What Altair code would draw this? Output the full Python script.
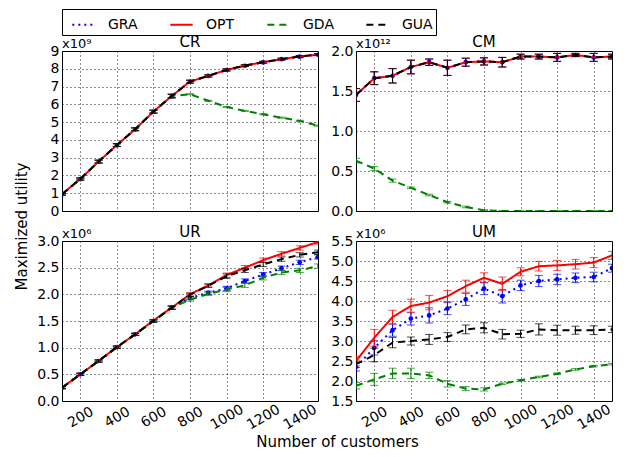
import altair as alt
import pandas as pd

customers = [100, 200, 300, 400, 500, 600, 700, 800, 900, 1000, 1100, 1200, 1300, 1400, 1500]
series_names = ["GRA", "OPT", "GDA", "GUA"]
series_colors = ["#0000ff", "#ff0000", "#008000", "#000000"]
series_dashes = [[2, 4], [1, 0], [7, 5], [7, 5]]
x_ticks = [200, 400, 600, 800, 1000, 1200, 1400]

# ---- CR (x10^9)
cr_gra = [0.93, 1.79, 2.77, 3.70, 4.59, 5.58, 6.46, 7.27, 7.60, 7.93, 8.17, 8.36, 8.54, 8.68, 8.79]
cr_opt = [0.95, 1.80, 2.78, 3.71, 4.60, 5.59, 6.47, 7.28, 7.60, 7.94, 8.18, 8.37, 8.54, 8.69, 8.80]
cr_gda = [0.95, 1.80, 2.78, 3.71, 4.60, 5.59, 6.47, 6.57, 6.20, 5.85, 5.63, 5.44, 5.25, 5.07, 4.80]
cr_gua = [0.94, 1.80, 2.78, 3.71, 4.60, 5.59, 6.47, 7.28, 7.60, 7.94, 8.18, 8.37, 8.54, 8.69, 8.80]
cr_err = [0.05, 0.06, 0.08, 0.08, 0.08, 0.08, 0.10, 0.08, 0.06, 0.06, 0.05, 0.05, 0.05, 0.05, 0.05]
cr_gda_err = [0.05, 0.06, 0.08, 0.08, 0.08, 0.08, 0.10, 0.03, 0.03, 0.03, 0.03, 0.03, 0.03, 0.03, 0.03]

# ---- CM (x10^12)
cm_gra = [1.45, 1.66, 1.69, 1.80, 1.86, 1.79, 1.86, 1.87, 1.86, 1.93, 1.93, 1.92, 1.95, 1.92, 1.93]
cm_opt = [1.45, 1.66, 1.69, 1.80, 1.86, 1.79, 1.86, 1.87, 1.86, 1.93, 1.93, 1.92, 1.95, 1.92, 1.93]
cm_gda = [0.63, 0.53, 0.38, 0.29, 0.20, 0.11, 0.05, 0.01, 0.00, 0.00, 0.00, 0.00, 0.00, 0.00, 0.00]
cm_gua = [1.45, 1.66, 1.69, 1.80, 1.86, 1.79, 1.86, 1.87, 1.86, 1.93, 1.93, 1.92, 1.95, 1.92, 1.93]
cm_err = [0.08, 0.08, 0.09, 0.085, 0.04, 0.095, 0.05, 0.045, 0.06, 0.03, 0.03, 0.05, 0.02, 0.05, 0.03]
cm_gda_err = [0.03, 0.025, 0.02, 0.01, 0.01, 0.01, 0.01, 0.005, 0.005, 0.005, 0.005, 0.005, 0.005, 0.005, 0.005]

# ---- UR (x10^6)
ur_gra = [0.25, 0.50, 0.75, 1.01, 1.25, 1.50, 1.75, 1.93, 2.03, 2.11, 2.25, 2.37, 2.49, 2.60, 2.70]
ur_opt = [0.25, 0.50, 0.75, 1.01, 1.25, 1.51, 1.75, 2.00, 2.17, 2.36, 2.50, 2.64, 2.76, 2.87, 2.98]
ur_gda = [0.25, 0.50, 0.75, 1.01, 1.25, 1.50, 1.75, 1.90, 2.01, 2.09, 2.17, 2.31, 2.41, 2.45, 2.53]
ur_gua = [0.25, 0.50, 0.75, 1.01, 1.25, 1.50, 1.75, 1.99, 2.16, 2.34, 2.45, 2.56, 2.66, 2.74, 2.79]
ur_err = [0.02, 0.02, 0.02, 0.02, 0.02, 0.02, 0.03, 0.03, 0.03, 0.04, 0.04, 0.04, 0.04, 0.04, 0.04]

# ---- UM (x10^6)
um_gra = [2.35, 2.83, 3.27, 3.56, 3.64, 3.81, 4.04, 4.31, 4.12, 4.39, 4.50, 4.54, 4.58, 4.60, 4.82]
um_opt = [2.50, 3.08, 3.60, 3.875, 3.96, 4.12, 4.37, 4.58, 4.43, 4.73, 4.87, 4.89, 4.92, 4.96, 5.14]
um_gda = [1.88, 2.04, 2.19, 2.19, 2.14, 1.93, 1.81, 1.79, 1.93, 2.02, 2.10, 2.18, 2.29, 2.37, 2.42]
um_gua = [2.42, 2.65, 2.96, 3.00, 3.04, 3.10, 3.29, 3.33, 3.17, 3.18, 3.29, 3.27, 3.27, 3.27, 3.29]
um_gra_err = [0.10, 0.18, 0.15, 0.16, 0.19, 0.15, 0.15, 0.15, 0.17, 0.13, 0.14, 0.13, 0.12, 0.12, 0.10]
um_opt_err = [0.12, 0.21, 0.17, 0.17, 0.18, 0.14, 0.15, 0.125, 0.17, 0.10, 0.12, 0.125, 0.12, 0.125, 0.10]
um_gda_err = [0.08, 0.15, 0.13, 0.13, 0.08, 0.08, 0.05, 0.04, 0.02, 0.02, 0.02, 0.02, 0.02, 0.02, 0.02]
um_gua_err = [0.08, 0.17, 0.13, 0.10, 0.125, 0.11, 0.11, 0.125, 0.12, 0.09, 0.14, 0.125, 0.10, 0.11, 0.08]

FONT = "DejaVu Sans"
W, H = 256, 160


def frame(values, errors):
    rows = []
    for name in series_names:
        vals = values[name]
        errs = errors[name]
        for x, v, e in zip(customers, vals, errs):
            rows.append({"series": name, "x": x, "y": v, "lo": v - e, "hi": v + e})
    return pd.DataFrame(rows)


def panel(title, exp_label, df, ydom, yvals, yfmt, show_xlabels, ytitle=None, xtitle=None):
    xaxis_kw = dict(values=x_ticks, format="d", grid=True, gridDash=[1, 3], gridColor="#000000",
                    gridOpacity=0.9, ticks=False, domain=False, labels=show_xlabels,
                    labelOverlap=False, labelAngle=330, labelAlign="center",
                    labelBaseline="middle", labelPadding=16, labelFontSize=14,
                    labelColor="#000000", title=xtitle if xtitle else None)
    if xtitle:
        xaxis_kw.update(titleX=275, titleY=33, titleBaseline="top", titleFontSize=15,
                        titleFontWeight="normal", titleColor="#000000")
    yaxis_kw = dict(values=yvals, format=yfmt, grid=True, gridDash=[1, 3], gridColor="#000000",
                    gridOpacity=0.9, ticks=False, domain=False, labelPadding=3,
                    labelOverlap=False, labelFontSize=14, labelColor="#000000",
                    title=ytitle if ytitle else None)
    if ytitle:
        yaxis_kw.update(titleX=-33, titleY=175, titleAngle=270, titleBaseline="bottom",
                        titleAlign="center", titleFontSize=15, titleFontWeight="normal",
                        titleColor="#000000")
    xscale = alt.Scale(domain=[100, 1500], nice=False, zero=False)
    yscale = alt.Scale(domain=ydom, nice=False, zero=False)

    def X():
        return alt.X("x:Q", scale=xscale, axis=alt.Axis(**xaxis_kw))

    def Y(field):
        return alt.Y(field + ":Q", scale=yscale, axis=alt.Axis(**yaxis_kw))

    base = alt.Chart(df)
    layers = []
    color_enc = alt.Color("series:N", scale=alt.Scale(domain=series_names, range=series_colors),
                          legend=alt.Legend(orient="none", legendX=0, legendY=-42,
                                            direction="horizontal", title=None))
    dash_enc = alt.StrokeDash("series:N", scale=alt.Scale(domain=series_names, range=series_dashes),
                              legend=alt.Legend(orient="none", legendX=0, legendY=-42,
                                                direction="horizontal", title=None))
    for name, col, dash in zip(series_names, series_colors, series_dashes):
        sub = base.transform_filter(alt.datum.series == name)
        rule = sub.mark_rule(strokeWidth=1, color=col, clip=True).encode(
            x=X(), y=Y("lo"), y2="hi:Q")
        cap_lo = sub.mark_tick(orient="horizontal", size=8, thickness=1, color=col, clip=True).encode(
            x=X(), y=Y("lo"))
        cap_hi = sub.mark_tick(orient="horizontal", size=8, thickness=1, color=col, clip=True).encode(
            x=X(), y=Y("hi"))
        line = sub.mark_line(strokeWidth=2, clip=True).encode(
            x=X(), y=Y("y"), color=color_enc, strokeDash=dash_enc)
        layers += [rule, cap_lo, cap_hi, line]
        if name == "GRA":
            pts = sub.mark_circle(size=22, opacity=1, color=col, clip=True).encode(x=X(), y=Y("y"))
            layers.append(pts)
    txt = pd.DataFrame({"t": [exp_label], "h": [title]})
    exp_txt = alt.Chart(txt).mark_text(
        align="left", baseline="alphabetic", fontSize=13, color="#000000").encode(
        x=alt.value(0), y=alt.value(-3), text="t:N")
    title_txt = alt.Chart(txt).mark_text(
        align="center", baseline="alphabetic", fontSize=15, color="#000000").encode(
        x=alt.value(W / 2), y=alt.value(-4), text="h:N")
    layers += [exp_txt, title_txt]
    return alt.layer(*layers).properties(width=W, height=H)


def errs(*lists):
    return dict(zip(series_names, lists))


df_cr = frame(errs(cr_gra, cr_opt, cr_gda, cr_gua), errs(cr_err, cr_err, cr_gda_err, cr_err))
df_cm = frame(errs(cm_gra, cm_opt, cm_gda, cm_gua), errs(cm_err, cm_err, cm_gda_err, cm_err))
df_ur = frame(errs(ur_gra, ur_opt, ur_gda, ur_gua), errs(ur_err, ur_err, ur_err, ur_err))
df_um = frame(errs(um_gra, um_opt, um_gda, um_gua), errs(um_gra_err, um_opt_err, um_gda_err, um_gua_err))

p_cr = panel("CR", "x10⁹", df_cr, [0, 9], [0, 1, 2, 3, 4, 5, 6, 7, 8, 9], "d", False,
             ytitle="Maximized utility")
p_cm = panel("CM", "x10¹²", df_cm, [0, 2.0], [0, 0.5, 1.0, 1.5, 2.0], ".1f", False)
p_ur = panel("UR", "x10⁶", df_ur, [0, 3.0], [0, 0.5, 1.0, 1.5, 2.0, 2.5, 3.0], ".1f", True,
             xtitle="Number of customers")
p_um = panel("UM", "x10⁶", df_um, [1.5, 5.5], [1.5, 2.0, 2.5, 3.0, 3.5, 4.0, 4.5, 5.0, 5.5], ".1f", True)

chart = alt.concat(p_cr, p_cm, p_ur, p_um, columns=2, spacing={"row": 30, "column": 38},
                   bounds="flush").properties(
    padding={"left": 5, "top": 0, "right": 5, "bottom": 5}
).configure(font=FONT).configure_view(
    stroke="#000000", strokeWidth=1
).configure_legend(
    strokeColor="#000000", padding=3, labelFontSize=14, labelColor="#000000",
    symbolType="stroke", symbolStrokeWidth=2, symbolSize=500, labelOffset=12,
    columnPadding=25, symbolOffset=6
)

chart.save("out.html", embed_options={"renderer": "svg", "actions": False})
